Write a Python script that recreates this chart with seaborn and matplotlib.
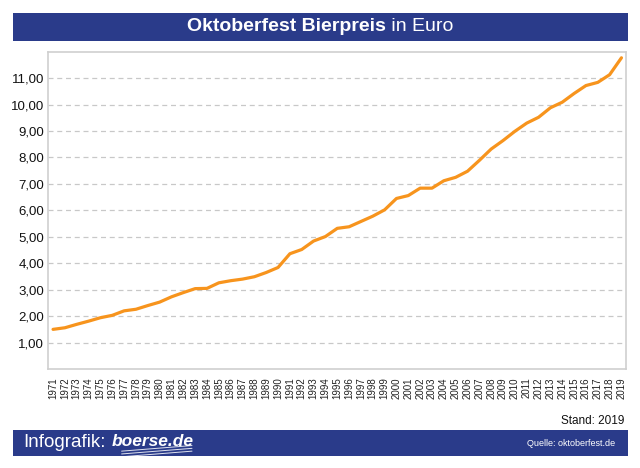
import numpy as np
import pandas as pd
import matplotlib
matplotlib.use("Agg")
import matplotlib.pyplot as plt
import seaborn as sns
from matplotlib.patches import Rectangle
from matplotlib.lines import Line2D
from matplotlib.ticker import FuncFormatter

# Oktoberfest Bierpreis (Maß) in Euro
jahre = list(range(1971, 2020))
preise = [
    1.50, 1.56, 1.69, 1.81, 1.94, 2.03, 2.20, 2.26, 2.40, 2.53,
    2.73, 2.89, 3.04, 3.05, 3.26, 3.34, 3.40, 3.49, 3.65, 3.84,
    4.36, 4.52, 4.84, 5.01, 5.32, 5.38, 5.58, 5.78, 6.02, 6.45,
    6.56, 6.84, 6.84, 7.12, 7.25, 7.48, 7.89, 8.32, 8.64, 8.99,
    9.30, 9.52, 9.88, 10.09, 10.42, 10.72, 10.84, 11.13, 11.77,
]
y_ticks = [1, 2, 3, 4, 5, 6, 7, 8, 9, 10, 11]

navy = "#2a3b8a"
orange = "#f7941d"

sns.set_style("white")
plt.rcParams["font.family"] = ["Liberation Sans", "DejaVu Sans"]

df = pd.DataFrame({"Jahr": jahre, "Preis": preise})

fig = plt.figure(figsize=(6.4, 4.68), dpi=100)
ax = fig.add_axes([0.0755, 0.2115, 0.902, 0.678])

sns.lineplot(data=df, x="Jahr", y="Preis", ax=ax, color=orange, linewidth=2.3)

ax.set_xlim(1970.6, 2019.35)
ax.set_ylim(0, 12)
ax.set_xticks(jahre)
ax.set_xticklabels([str(j) for j in jahre], rotation=90, fontsize=7, color="#222222")
ax.set_yticks(y_ticks)
ax.yaxis.set_major_formatter(FuncFormatter(lambda v, p: f"{v:.2f}".replace(".", ",")))
ax.tick_params(axis="y", labelsize=9.5, length=0, pad=3, colors="#111111")
ax.tick_params(axis="x", length=0, pad=6)
ax.set_xlabel("")
ax.set_ylabel("")
ax.yaxis.grid(True, linestyle=(0, (4, 3)), color="#c8c8c8", linewidth=0.9)
ax.xaxis.grid(False)
for s in ax.spines.values():
    s.set_color("#cfcfcf")
    s.set_linewidth(1.2)

# Titelbalken
fig.patches.append(Rectangle((0.0203, 0.9124), 0.9607, 0.0592, transform=fig.transFigure,
                             facecolor=navy, edgecolor="none"))
renderer = fig.canvas.get_renderer()
t1 = fig.text(0, 0.9425, "Oktoberfest Bierpreis", color="white", fontsize=14,
              fontweight="bold", ha="left", va="center")
t2 = fig.text(0, 0.9425, " in Euro", color="white", fontsize=14, ha="left", va="center")
w1 = t1.get_window_extent(renderer).width / fig.bbox.width
w2 = t2.get_window_extent(renderer).width / fig.bbox.width
x0 = 0.5 - (w1 + w2) / 2
t1.set_x(x0)
t2.set_x(x0 + w1)

# Fußzeile
fig.text(0.975, 0.1, "Stand: 2019", fontsize=8.5, ha="right", va="center", color="#111111")
fig.patches.append(Rectangle((0.0203, 0.0263), 0.9607, 0.0549, transform=fig.transFigure,
                             facecolor=navy, edgecolor="none"))
fig.text(0.037, 0.0555, "Infografik:", color="white", fontsize=13.5, ha="left", va="center")
fig.text(0.175, 0.0565, "boerse.de", color="white", fontsize=12.5, fontweight="bold",
         style="italic", ha="left", va="center")
# Schwung unter dem Logo
for k, dy in enumerate([0.0, 0.006, 0.012]):
    xs = np.linspace(0.19, 0.30, 30)
    ys = 0.036 - dy + 0.012 * (xs - 0.19) / 0.11
    fig.lines.append(Line2D(xs, ys, transform=fig.transFigure, color="white",
                            linewidth=0.7, alpha=0.85))
fig.text(0.961, 0.052, "Quelle: oktoberfest.de", color="white", fontsize=6.5, ha="right",
         va="center")

fig.savefig("out.png", dpi=100, facecolor="white")
